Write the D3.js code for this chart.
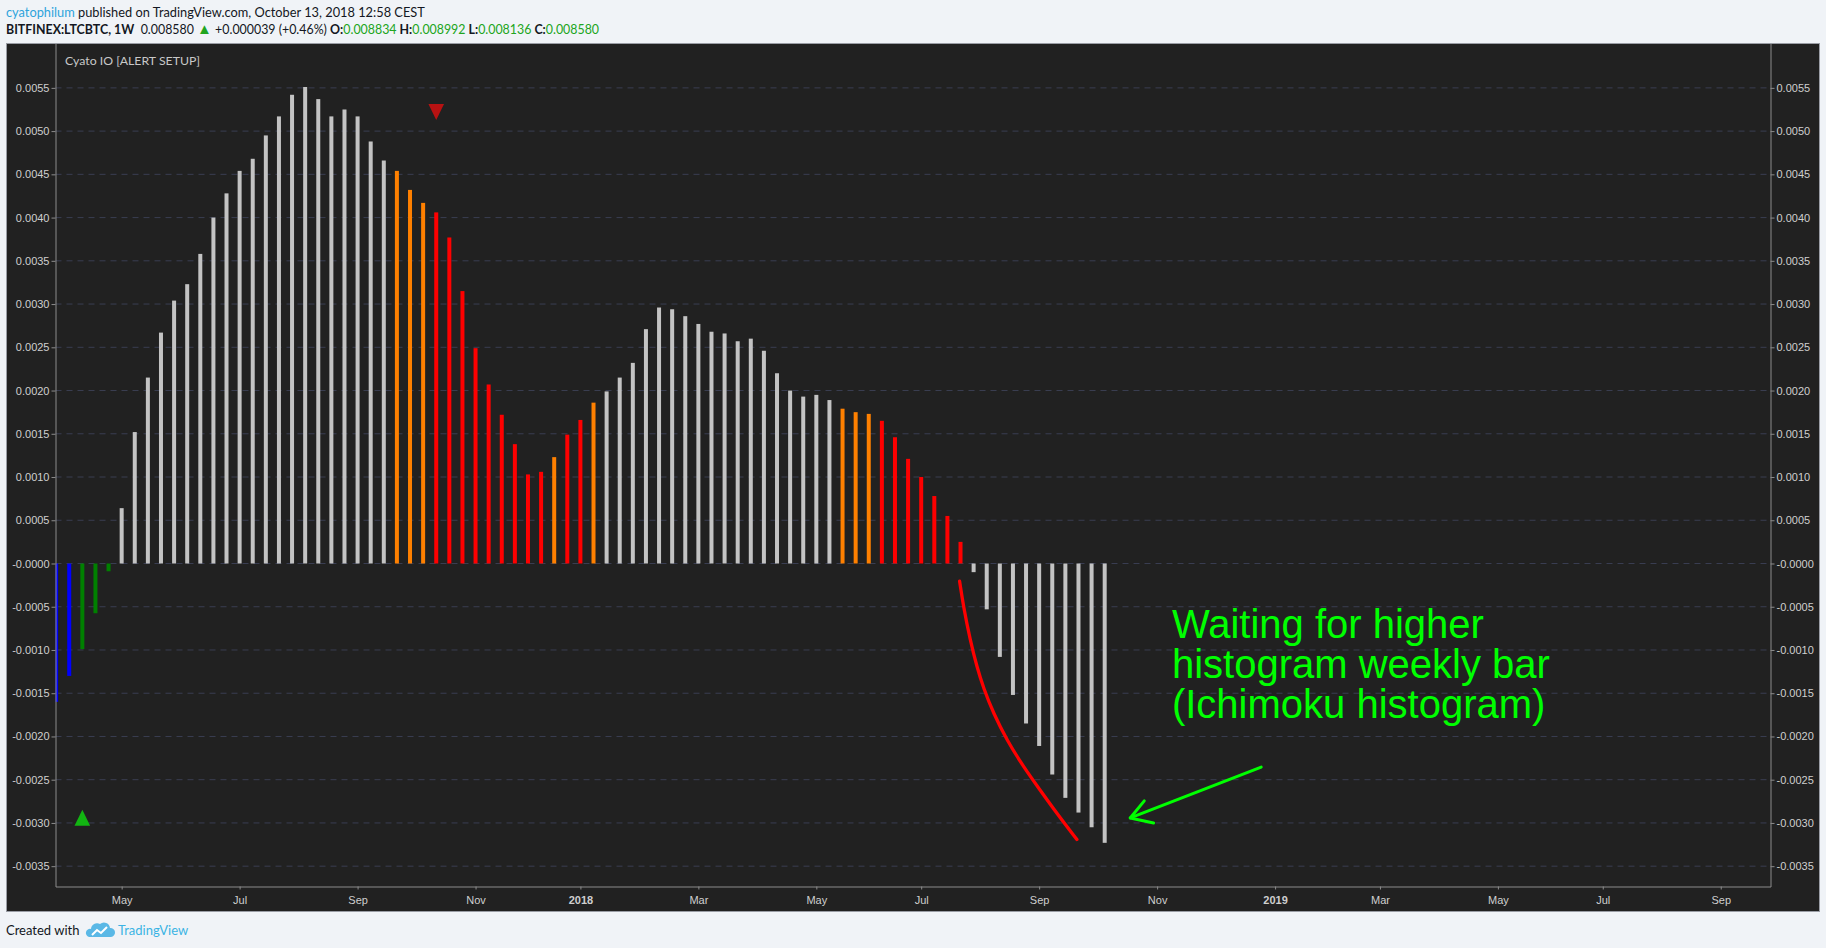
<!DOCTYPE html>
<html>
<head>
<meta charset="utf-8">
<script src="https://d3js.org/d3.v7.min.js"></script>
<style>
  body { margin: 0; background: #f0f3f7; }
  svg text { font-family: Lato, "Liberation Sans", sans-serif; }
</style>
</head>
<body>
<svg id="chart"></svg>
<script>
// LTCBTC weekly, Cyato IO histogram. first bar = week of 27 Mar 2017
var firstWeek = new Date(Date.UTC(2017, 2, 27));

var histValues = [
  -0.00160, -0.00130, -0.00099, -0.000575, -0.00009,
  0.00064, 0.00152, 0.00215, 0.00267, 0.00304, 0.00323, 0.00358, 0.00400, 0.00428,
  0.00454, 0.00468, 0.00495, 0.00517, 0.00542, 0.00551, 0.00537, 0.00517, 0.00525,
  0.00517, 0.00488, 0.00466, 0.00454, 0.00432, 0.00417, 0.00406, 0.00377, 0.00315,
  0.00249, 0.00207, 0.00172, 0.00138, 0.00103, 0.00106, 0.00123, 0.00149, 0.00166,
  0.00186, 0.00199, 0.00215, 0.00232, 0.00271, 0.00296, 0.00294, 0.00286, 0.00277,
  0.00268, 0.00266, 0.00257, 0.00260, 0.00246, 0.00220, 0.00200, 0.00193, 0.00195,
  0.00189, 0.00179, 0.00175, 0.00173, 0.00165, 0.00146, 0.00121, 0.00100, 0.00078,
  0.00055, 0.00025,
  -0.00010, -0.00053, -0.00108, -0.00152, -0.00185, -0.00211, -0.00244, -0.00271,
  -0.00288, -0.00305, -0.00323
];
// bar state per week: b = bottom, g = recovering, w = trend, o = slowing, r = falling
var histState = ("bbggg" + "wwwwwwwwwwwwwwwwwwwww" + "ooo" + "rrrrrrrrr" + "o" + "rr" + "o" +
  "wwwwwwwwwwwwwwwwww" + "ooo" + "rrrrrrr" + "wwwwwwwwwww").split("");

var sellSignals = [{week: 29, value: 0.00522}];
var buySignals = [{week: 2, value: -0.00294}];

var yTicks = [-0.0035, -0.003, -0.0025, -0.002, -0.0015, -0.001, -0.0005, 0,
  0.0005, 0.001, 0.0015, 0.002, 0.0025, 0.003, 0.0035, 0.004, 0.0045, 0.005, 0.0055];

var xTickDates = [
  Date.UTC(2017, 4, 1), Date.UTC(2017, 6, 3), Date.UTC(2017, 8, 4), Date.UTC(2017, 10, 6),
  Date.UTC(2018, 0, 1), Date.UTC(2018, 2, 5), Date.UTC(2018, 4, 7), Date.UTC(2018, 6, 2),
  Date.UTC(2018, 8, 3), Date.UTC(2018, 10, 5), Date.UTC(2019, 0, 7), Date.UTC(2019, 2, 4),
  Date.UTC(2019, 4, 6), Date.UTC(2019, 6, 1), Date.UTC(2019, 8, 2)
].map(function(t) { return new Date(t); });
var xTickLabels = ["May", "Jul", "Sep", "Nov", "2018", "Mar", "May", "Jul", "Sep", "Nov",
  "2019", "Mar", "May", "Jul", "Sep"];

// hand drawn annotations, in [week index, value]
var trendCurve = [[68.93, -0.000205], [69.23, -0.000502], [69.74, -0.000887], [70.25, -0.001196],
  [70.76, -0.001445], [71.52, -0.001735], [72.54, -0.002043], [73.81, -0.002352],
  [75.08, -0.002621], [76.36, -0.002891], [77.88, -0.003192]];
var arrowLine = [[91.94, -0.002355], [81.95, -0.002942]];
var arrowHead = [[83.02, -0.002745], [81.95, -0.002942], [83.73, -0.0030]];
var noteAt = [85.13, -0.000867];
var noteLines = ["Waiting for higher", "histogram weekly bar", "(Ichimoku histogram)"];

var W = 1826, H = 948;
var panel = {left: 6.5, right: 1819.5, top: 43.5, bottom: 911.5};
var plot = {left: 55.5, right: 1770.5, top: 43.5, bottom: 886.5};

var colors = {b: "#0000ff", g: "#008000", w: "#c3c3c3", o: "#ff8000", r: "#ff0000"};

var svg = d3.select("#chart").attr("width", W).attr("height", H);

svg.append("rect").attr("width", W).attr("height", H).attr("fill", "#f0f3f7");

// header
var h1 = svg.append("text").attr("x", 6).attr("y", 16.5).attr("font-size", 12.8).attr("fill", "#131722");
h1.append("tspan").attr("fill", "#2ea3dc").text("cyatophilum");
h1.append("tspan").text(" published on TradingView.com, October 13, 2018 12:58 CEST");

var h2 = svg.append("text").attr("x", 6).attr("y", 33.5).attr("font-size", 12.4).attr("fill", "#131722");
h2.append("tspan").attr("font-weight", "bold").text("BITFINEX:LTCBTC, 1W");
h2.append("tspan").text("\u00a0 0.008580 ");
h2.append("tspan").attr("fill", "#20a520").attr("font-size", 15).text("\u25b2");
h2.append("tspan").text(" +0.000039 (+0.46%) ");
[["O:", "0.008834"], ["H:", "0.008992"], ["L:", "0.008136"], ["C:", "0.008580"]].forEach(function(p, i) {
  h2.append("tspan").attr("font-weight", "bold").text((i ? " " : "") + p[0]);
  h2.append("tspan").attr("fill", "#20a520").text(p[1]);
});

// panel
svg.append("rect")
  .attr("x", panel.left).attr("y", panel.top)
  .attr("width", panel.right - panel.left).attr("height", panel.bottom - panel.top)
  .attr("fill", "#212121").attr("stroke", "#9a9da5");

var x = d3.scaleUtc()
  .domain([new Date(Date.UTC(2017, 2, 26, 16)), new Date(Date.UTC(2019, 8, 28, 14))])
  .range([plot.left, plot.right]);
var y = d3.scaleLinear()
  .domain([-0.003735, 0.006013])
  .range([plot.bottom, plot.top]);

function weekDate(w) { return new Date(firstWeek.getTime() + w * 7 * 864e5); }
function wx(w) { return x(weekDate(w)); }

function fmt(d) {
  var s = Math.abs(d).toFixed(4);
  return (d <= 0 ? "-" : "") + s;
}

svg.append("clipPath").attr("id", "clip").append("rect")
  .attr("x", plot.left).attr("y", plot.top)
  .attr("width", plot.right - plot.left).attr("height", plot.bottom - plot.top);

// grid
svg.append("g").selectAll("line")
  .data(yTicks)
  .join("line")
    .attr("x1", plot.left).attr("x2", plot.right)
    .attr("y1", d => y(d)).attr("y2", d => y(d))
    .attr("stroke", "#3a3e52").attr("stroke-dasharray", "6,5");

// bars
var bars = histValues.map(function(v, i) { return {week: i, value: v, state: histState[i]}; });
svg.append("g").attr("clip-path", "url(#clip)")
  .selectAll("rect")
  .data(bars)
  .join("rect")
    .attr("x", d => wx(d.week) - 2)
    .attr("width", 4)
    .attr("y", d => Math.min(y(d.value), y(0)))
    .attr("height", d => Math.abs(y(d.value) - y(0)))
    .attr("fill", d => colors[d.state]);

// signals
function tri(cx, cy, up) {
  var hw = 7.8, hh = 8;
  return up
    ? "M" + cx + "," + (cy - hh) + "L" + (cx + hw) + "," + (cy + hh) + "L" + (cx - hw) + "," + (cy + hh) + "Z"
    : "M" + (cx - hw) + "," + (cy - hh) + "L" + (cx + hw) + "," + (cy - hh) + "L" + cx + "," + (cy + hh) + "Z";
}
svg.append("g").selectAll("path").data(sellSignals).join("path")
  .attr("d", d => tri(wx(d.week), y(d.value), false)).attr("fill", "#b81212");
svg.append("g").selectAll("path").data(buySignals).join("path")
  .attr("d", d => tri(wx(d.week), y(d.value), true)).attr("fill", "#12b512");

// axes
var axisColor = "#8c8c8c", labelColor = "#cfcfcf";

var gl = svg.append("g").attr("transform", "translate(" + plot.left + ",0)")
  .call(d3.axisLeft(y).tickValues(yTicks).tickFormat(fmt).tickSize(4).tickSizeOuter(0));
var gr = svg.append("g").attr("transform", "translate(" + plot.right + ",0)")
  .call(d3.axisRight(y).tickValues(yTicks).tickFormat(fmt).tickSize(4).tickSizeOuter(0));
var gb = svg.append("g").attr("transform", "translate(0," + plot.bottom + ")")
  .call(d3.axisBottom(x).tickValues(xTickDates)
    .tickFormat((d, i) => xTickLabels[i]).tickSize(3).tickSizeOuter(0));

[gl, gr, gb].forEach(function(g) {
  g.select(".domain").attr("stroke", axisColor);
  g.selectAll(".tick line").attr("stroke", axisColor);
  g.selectAll(".tick text")
    .attr("fill", labelColor)
    .style("font-family", "'Liberation Sans', Arial, sans-serif")
    .attr("font-size", 11);
});
gl.selectAll(".tick text").attr("x", -6);
gr.selectAll(".tick text").attr("x", 6);
gb.selectAll(".tick text").attr("y", 10)
  .attr("font-weight", (d, i) => /^\d{4}$/.test(xTickLabels[i]) ? "bold" : null);

svg.append("text").attr("x", 65).attr("y", 65).attr("font-size", 12.3)
  .attr("fill", "#c8c8c8").text("Cyato IO [ALERT SETUP]");

// annotations
svg.append("path")
  .datum(trendCurve)
  .attr("d", d3.line().x(d => wx(d[0])).y(d => y(d[1])).curve(d3.curveBasis))
  .attr("fill", "none").attr("stroke", "#ff0000").attr("stroke-width", 3.3)
  .attr("stroke-linecap", "round");

var arrow = svg.append("g").attr("fill", "none").attr("stroke", "#00ff00")
  .attr("stroke-width", 3).attr("stroke-linecap", "round").attr("stroke-linejoin", "round");
[arrowLine, arrowHead].forEach(function(pts) {
  arrow.append("path").attr("d", d3.line().x(d => wx(d[0])).y(d => y(d[1]))(pts));
});

svg.append("g").selectAll("text")
  .data(noteLines)
  .join("text")
    .attr("x", wx(noteAt[0]))
    .attr("y", (d, i) => y(noteAt[1]) + i * 40)
    .attr("font-size", 40)
    .style("font-family", "'Liberation Sans', Arial, sans-serif")
    .attr("fill", "#00ff00")
    .text(d => d);

// footer
svg.append("text").attr("x", 6).attr("y", 935).attr("font-size", 13)
  .attr("fill", "#131722").text("Created with");
var logo = svg.append("g").attr("transform", "translate(88,922)");
logo.append("path")
  .attr("d", "M1,15 a4,4 0 0 1 2,-8 a6,6 0 0 1 9,-5 a6,6 0 0 1 10,4 a4.5,4.5 0 0 1 1,9 Z")
  .attr("fill", "#5ab8e6");
logo.append("path").attr("d", "M4,13 L9,8 L13,11 L19,5")
  .attr("fill", "none").attr("stroke", "#ffffff").attr("stroke-width", 2);
svg.append("text").attr("x", 118).attr("y", 935).attr("font-size", 13)
  .attr("fill", "#3bb3e4").text("TradingView");
</script>
</body>
</html>
